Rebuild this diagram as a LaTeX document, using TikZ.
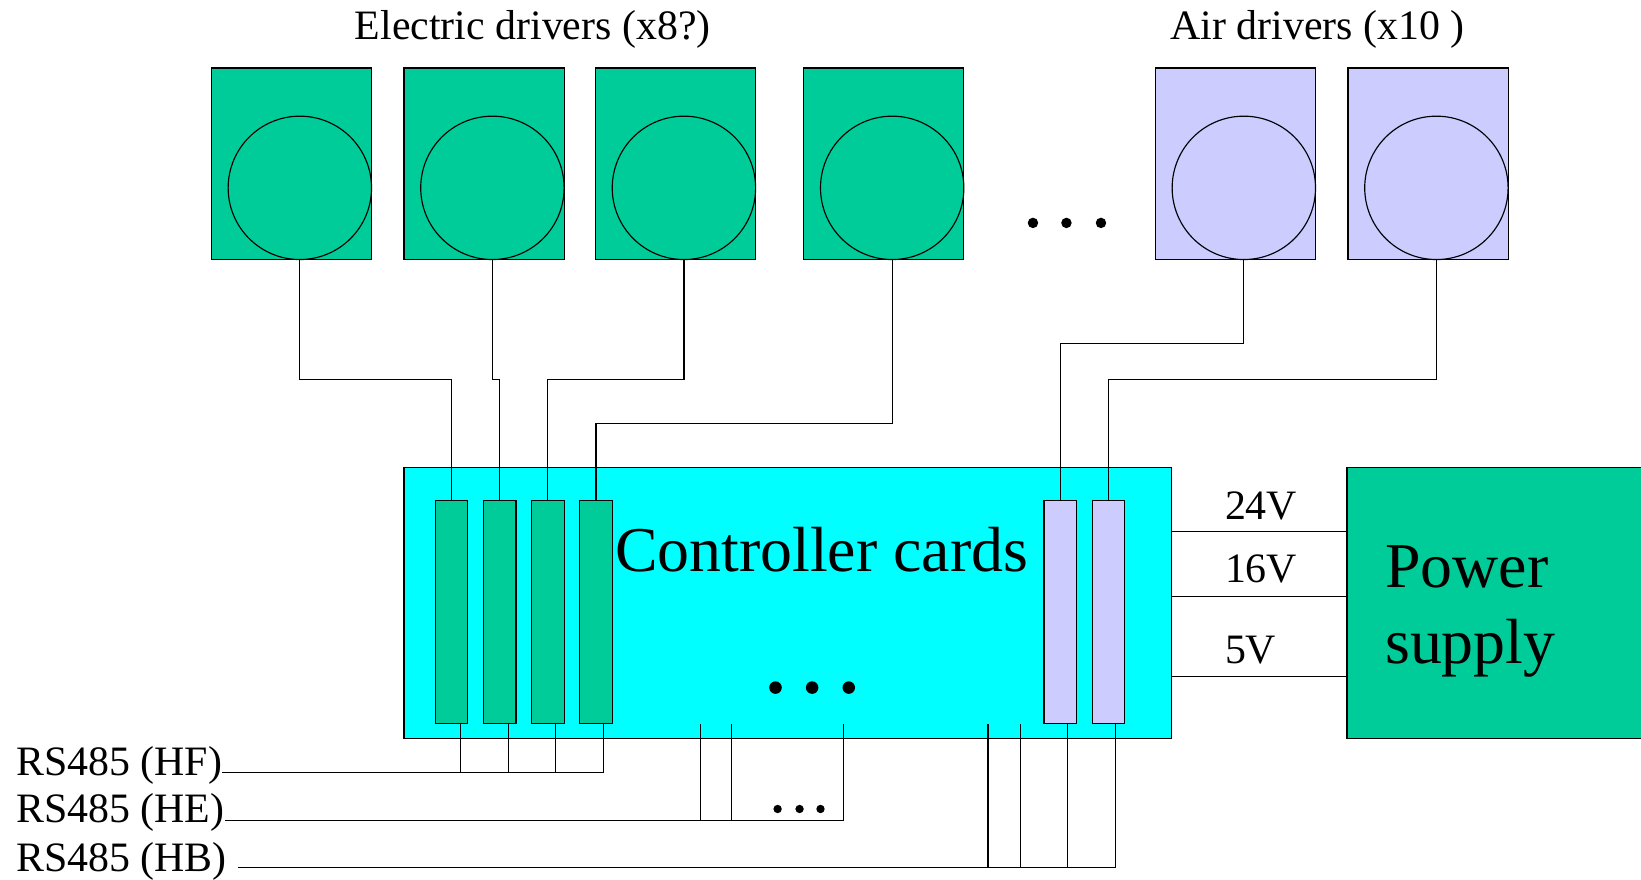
\documentclass[tikz,border=0pt]{standalone}
\usepackage{fontspec}
\setmainfont{Liberation Serif}
\usetikzlibrary{calc}
\definecolor{drvgreen}{HTML}{00CC99}
\definecolor{ctlcyan}{HTML}{00FFFF}
\definecolor{airblue}{HTML}{CCCCFF}
\begin{document}
\begin{tikzpicture}[x=1pt,y=-1pt,line width=1.1pt,
  ebox/.style={draw,fill=drvgreen,minimum width=153pt,minimum height=183pt,inner sep=0pt,outer sep=0pt},
  abox/.style={ebox,fill=airblue},
  wheel/.style={draw,circle,minimum size=137pt,inner sep=0pt,outer sep=0pt},
  eslot/.style={draw,fill=drvgreen,minimum width=31pt,minimum height=213pt,inner sep=0pt,outer sep=0pt},
  aslot/.style={eslot,fill=airblue},
  lbl/.style={inner sep=0pt,font=\fontsize{40}{48}\selectfont},
  big/.style={inner sep=0pt,font=\fontsize{61}{72}\selectfont},
  dot/.style={fill=black,draw=none}]
\useasboundingbox (0,0) rectangle (1568,840);

% headings
\node[lbl,anchor=base] (hel) at (509,38) {Electric drivers (x8?)};
\node[lbl,anchor=base] (hai) at (1259,38) {Air drivers (x10 )};

% driver boxes
\node[ebox] (e1) at (278.5,156.5) {};
\node[ebox] (e2) at (462.5,156.5) {};
\node[ebox] (e3) at (645.5,156.5) {};
\node[ebox] (e4) at (844.5,156.5) {};
\node[abox] (a1) at (1180.5,156.5) {};
\node[abox] (a2) at (1364.5,156.5) {};
\node[wheel] (c1) at (286.5,179.5) {};
\node[wheel] (c2) at (470.5,179.5) {};
\node[wheel] (c3) at (653.5,179.5) {};
\node[wheel] (c4) at (852.5,179.5) {};
\node[wheel] (ac1) at (1188.5,179.5) {};
\node[wheel] (ac2) at (1372.5,179.5) {};
\fill[dot] (987,213) circle (5) (1019,213) circle (5) (1052,213) circle (5);

% controller
\node[draw,fill=ctlcyan,minimum width=733pt,minimum height=259pt,inner sep=0pt,outer sep=0pt] (ctl) at (752.5,576.5) {};
\node[eslot] (s1) at (431.5,584.5) {};
\node[eslot] (s2) at (477.5,584.5) {};
\node[eslot] (s3) at (523.5,584.5) {};
\node[eslot] (s4) at (569.5,584.5) {};
\node[aslot] (as1) at (1013,584.5) {};
\node[aslot] (as2) at (1059,584.5) {};
\node[big,anchor=base] (ctltxt) at (785,546) {Controller cards};
\fill[dot] (741,657) circle (6) (776,657) circle (6) (811,657) circle (6);

% power supply
\node[draw,fill=drvgreen,minimum width=288pt,minimum height=259pt,inner sep=0pt,outer sep=0pt] (ps) at (1431,576.5) {};
\node[big,anchor=base west] (ps1) at (1323,561) {Power};
\node[big,anchor=base west] (ps2) at (1323,634) {supply};

% driver wires
\draw (c1.south) -- ++(0,115) -| (s1.north);
\draw (c2.south) -- ++(0,115) -| (s2.north);
\draw (c3.south) -- ++(0,115) -| (s3.north);
\draw (c4.south) -- ++(0,157) -| (s4.north);
\draw (ac1.south) -- ++(0,80) -| (as1.north);
\draw (ac2.south) -- ++(0,115) -| (as2.north);

% power lines
\coordinate (v24) at (1170,508);
\coordinate (v16) at (1170,570);
\coordinate (v5) at (1170,646);
\draw (ctl.east |- v24) -- (ps.west |- v24);
\draw (ctl.east |- v16) -- (ps.west |- v16);
\draw (ctl.east |- v5) -- (ps.west |- v5);
\node[lbl,anchor=base west] (l24) at (1170,496) {24V};
\node[lbl,anchor=base west] (l16) at (1170,557) {16V};
\node[lbl,anchor=base west] (l5) at (1170,634) {5V};

% RS485 buses
\node[lbl,anchor=base west] (lhf) at (15,741) {RS485 (HF)};
\node[lbl,anchor=base west] (lhe) at (15,786) {RS485 (HE)};
\node[lbl,anchor=base west] (lhb) at (15,833) {RS485 (HB)};

\coordinate (hfA) at (212,738);
\coordinate (hf1) at (440,738);
\coordinate (hf2) at (486,738);
\coordinate (hf3) at (531,738);
\coordinate (hf4) at (577,738);
\draw (hfA) -- (hf4);
\draw (hf1 |- s1.south) -- (hf1);
\draw (hf2 |- s2.south) -- (hf2);
\draw (hf3 |- s3.south) -- (hf3);
\draw (hf4 |- s4.south) -- (hf4);

\coordinate (heA) at (215,784);
\coordinate (he1) at (669,784);
\coordinate (he2) at (699,784);
\coordinate (he3) at (806,784);
\draw (heA) -- (he3);
\draw (he1) -- ++(0,-92);
\draw (he2) -- ++(0,-92);
\draw (he3) -- ++(0,-92);
\fill[dot] (743,773) circle (4) (764,773) circle (4) (784,773) circle (4);

\coordinate (hbA) at (227,829);
\coordinate (hb1) at (944,829);
\coordinate (hb2) at (975,829);
\coordinate (hb3) at (1020,829);
\coordinate (hb4) at (1066,829);
\draw (hbA) -- (hb4);
\draw (hb1) -- ++(0,-137);
\draw (hb2) -- ++(0,-137);
\draw (hb3 |- as1.south) -- (hb3);
\draw (hb4 |- as2.south) -- (hb4);
\end{tikzpicture}
\end{document}
